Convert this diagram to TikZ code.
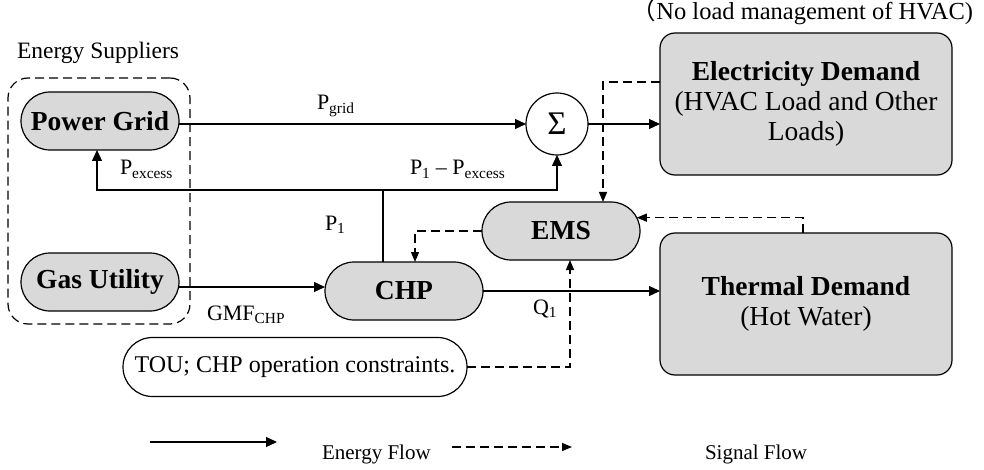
\documentclass[tikz,border=0pt]{standalone}
\usepackage{fontspec}
\setmainfont{Liberation Serif}
\newfontfamily\cjk{Noto Sans CJK SC}
\usetikzlibrary{arrows.meta,shapes.misc,calc}
\definecolor{boxgray}{RGB}{217,217,217}
\begin{document}
\begin{tikzpicture}[x=1pt,y=-1pt,
  every node/.style={inner sep=0pt, outer sep=0pt},
  line width=1.2pt,
  flow/.style={line width=1.2pt,-{Triangle[length=11pt,width=10pt]}},
  sig/.style={line width=1.2pt,dash pattern=on 9pt off 5pt,-{Triangle[length=10pt,width=8pt]}},
  pill/.style={rounded rectangle, draw, fill=boxgray, minimum width=158pt, minimum height=58pt, font=\fontsize{27.5}{30}\selectfont\bfseries},
  dbox/.style={rectangle, rounded corners=15pt, draw, fill=boxgray, minimum width=292pt, minimum height=142pt, align=center, font=\fontsize{27.5}{30}\selectfont},
  lab/.style={font=\fontsize{22}{26}\selectfont, anchor=base west},
  legtxt/.style={font=\fontsize{21}{24}\selectfont, anchor=base west},
]
\useasboundingbox (0,0) rectangle (984,470);

% supplier group
\node[draw, dash pattern=on 9pt off 5pt, rounded corners=20pt, minimum width=182pt, minimum height=246pt] (sup) at (99,201) {};
\node[font=\fontsize{23.5}{28}\selectfont, anchor=base west] (suptitle) at (17,59) {Energy Suppliers};
\node[font=\fontsize{24.5}{28}\selectfont, anchor=base east] (note) at (973,20) {{\cjk （}No load management of HVAC)};

% nodes
\node[pill] (pg) at (100,121) {Power Grid};
\node[pill] (gas) at (100,282) {Gas Utility};
\node[pill] (chp) at (404,291) {CHP};
\node[pill] (ems) at (561,231) {EMS};
\node[dbox] (elec) at (806,104) {\textbf{Electricity Demand}\\(HVAC Load and Other\\Loads)};
\node[dbox] (therm) at (806,304) {\textbf{Thermal Demand}\\(Hot Water)};
\node[circle, draw, fill=white, minimum size=62pt, font=\fontsize{33}{33}\selectfont] (sum) at (557,124) {Σ};
\node[rounded rectangle, draw, fill=white, minimum width=344pt, minimum height=59pt, font=\fontsize{24}{28}\selectfont] (tou) at (295,367) {TOU; CHP operation constraints.};

% energy flows
\draw[flow] (sum.west -| pg.east) -- (sum.west);
\draw[flow] (sum.east) -- (sum.east -| elec.west);
\coordinate (j) at (383,190);
\coordinate (pe) at (97,190);
\draw (j |- chp.north) -- (j);
\draw[flow] (j) -- (pe) -- (pe |- pg.south);
\draw[flow] (j) -| (sum.south);
\draw[flow] ([yshift=-5pt]gas.east) -- ([yshift=-5pt]gas.east -| chp.west);
\draw[flow] (chp.east) -- (chp.east -| therm.west);

% signal flows
\draw[sig] ([yshift=22pt]elec.west) -| ([xshift=42pt]ems.north);
\draw[sig] ([xshift=-3pt]therm.north) |- (ems.10);
\draw[sig] (ems.west) -| ([xshift=11pt]chp.north);
\draw[sig] (tou.east) -| ([xshift=9pt]ems.south);

% labels
\node[lab] (lpgrid) at (317,110) {P\textsubscript{grid}};
\node[lab] (lp1pex) at (410,175) {P\textsubscript{1} – P\textsubscript{excess}};
\node[lab] (lpex) at (120,175) {P\textsubscript{excess}};
\node[lab] (lp1) at (325,230) {P\textsubscript{1}};
\node[lab] (lgmf) at (207,320) {GMF\textsubscript{CHP}};
\node[lab] (lq1) at (533,314) {Q\textsubscript{1}};

% legend
\coordinate (l1) at (150,442); \coordinate (l2) at (277,442);
\draw[flow] (l1) -- (l2);
\node[legtxt] (lt1) at (322,459) {Energy Flow};
\coordinate (l3) at (452,447); \coordinate (l4) at (572,447);
\draw[sig] (l3) -- (l4);
\node[legtxt] (lt2) at (705,459) {Signal Flow};
\end{tikzpicture}
\end{document}
